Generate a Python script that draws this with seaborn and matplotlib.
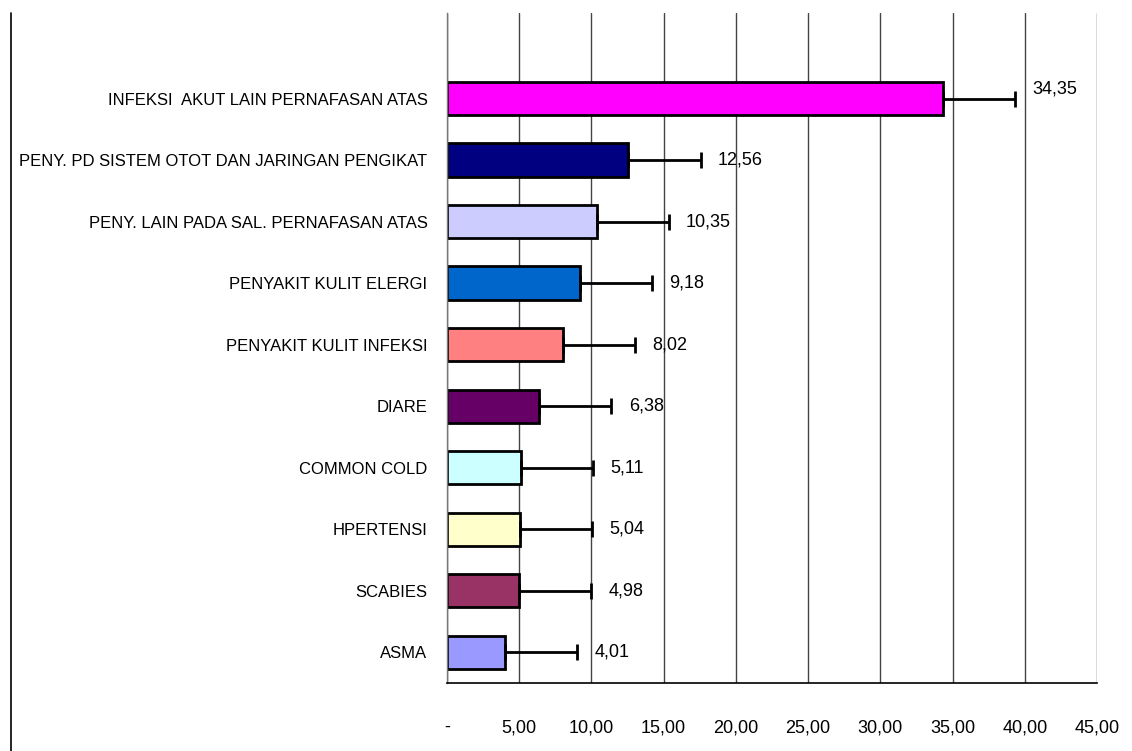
import matplotlib
matplotlib.use("Agg")
import matplotlib.pyplot as plt
from matplotlib.lines import Line2D
import seaborn as sns
import pandas as pd

# data
penyakit = [
    "INFEKSI  AKUT LAIN PERNAFASAN ATAS",
    "PENY. PD SISTEM OTOT DAN JARINGAN PENGIKAT",
    "PENY. LAIN PADA SAL. PERNAFASAN ATAS",
    "PENYAKIT KULIT ELERGI",
    "PENYAKIT KULIT INFEKSI",
    "DIARE",
    "COMMON COLD",
    "HPERTENSI",
    "SCABIES",
    "ASMA",
]
persen = [34.35, 12.56, 10.35, 9.18, 8.02, 6.38, 5.11, 5.04, 4.98, 4.01]
galat = [5.0, 5.0, 5.0, 5.0, 5.0, 5.0, 5.0, 5.0, 5.0, 5.0]
warna = ["#FF00FF", "#000080", "#CCCCFF", "#0066CC", "#FF8080",
         "#660066", "#CCFFFF", "#FFFFCC", "#993366", "#9999FF"]
x_ticks = [0, 5, 10, 15, 20, 25, 30, 35, 40, 45]
x_labels = ["-", "5,00", "10,00", "15,00", "20,00", "25,00",
            "30,00", "35,00", "40,00", "45,00"]

df = pd.DataFrame({"Penyakit": penyakit, "Persen": persen})

sns.set_style("white")
plt.rcParams["font.family"] = ["Liberation Sans Narrow", "Liberation Sans", "DejaVu Sans"]
plt.rcParams["text.color"] = "black"
plt.rcParams["xtick.color"] = "black"
plt.rcParams["ytick.color"] = "black"

fig = plt.figure(figsize=(11.32, 7.51), dpi=100)
ax = fig.add_axes([447 / 1132, 68 / 751, 650 / 1132, 670 / 751])

sns.barplot(data=df, x="Persen", y="Penyakit", hue="Penyakit", palette=warna,
            orient="h", width=0.54, edgecolor="black", linewidth=2,
            saturation=1, legend=False, ax=ax)

ypos = list(range(len(penyakit)))
ax.errorbar(persen, ypos, xerr=[[0] * len(galat), galat], fmt="none",
            ecolor="black", elinewidth=2, capsize=5.5, capthick=2, zorder=4)

for y, v, e in zip(ypos, persen, galat):
    dy = -0.15 if y == 0 else 0
    ax.text(v + e + 1.2, y + dy, f"{v:.2f}".replace(".", ","),
            va="center", ha="left", fontsize=13, color="black")

ax.set_xlim(0, 45)
ax.set_ylim(9.5, -1.39)
ax.set_xticks(x_ticks)
ax.set_xticklabels(x_labels, fontsize=13)
ax.set_yticks(ypos)
ax.set_yticklabels(penyakit, fontsize=12)
ax.set_yticks([i - 0.5 for i in range(len(penyakit) + 1)], minor=True)
ax.tick_params(axis="y", which="major", length=0, pad=14, labelcolor="black")
ax.tick_params(axis="y", which="minor", length=5, color="#555555", width=1)
ax.tick_params(axis="x", length=6, color="#555555", width=1, pad=20,
               labelcolor="black")
ax.set_xlabel("")
ax.set_ylabel("")

ax.grid(axis="x", color="#444444", linewidth=1)
ax.set_axisbelow(True)
for s in ["top", "right"]:
    ax.spines[s].set_visible(False)
ax.spines["left"].set_color("#777777")
ax.spines["left"].set_linewidth(1)
ax.spines["bottom"].set_color("black")
ax.spines["bottom"].set_linewidth(1.2)

# thin border line on the far left of the picture
fig.add_artist(Line2D([11 / 1132, 11 / 1132], [0, 738 / 751],
                      transform=fig.transFigure, color="black", linewidth=1.2))

fig.savefig("out.png", dpi=100)
